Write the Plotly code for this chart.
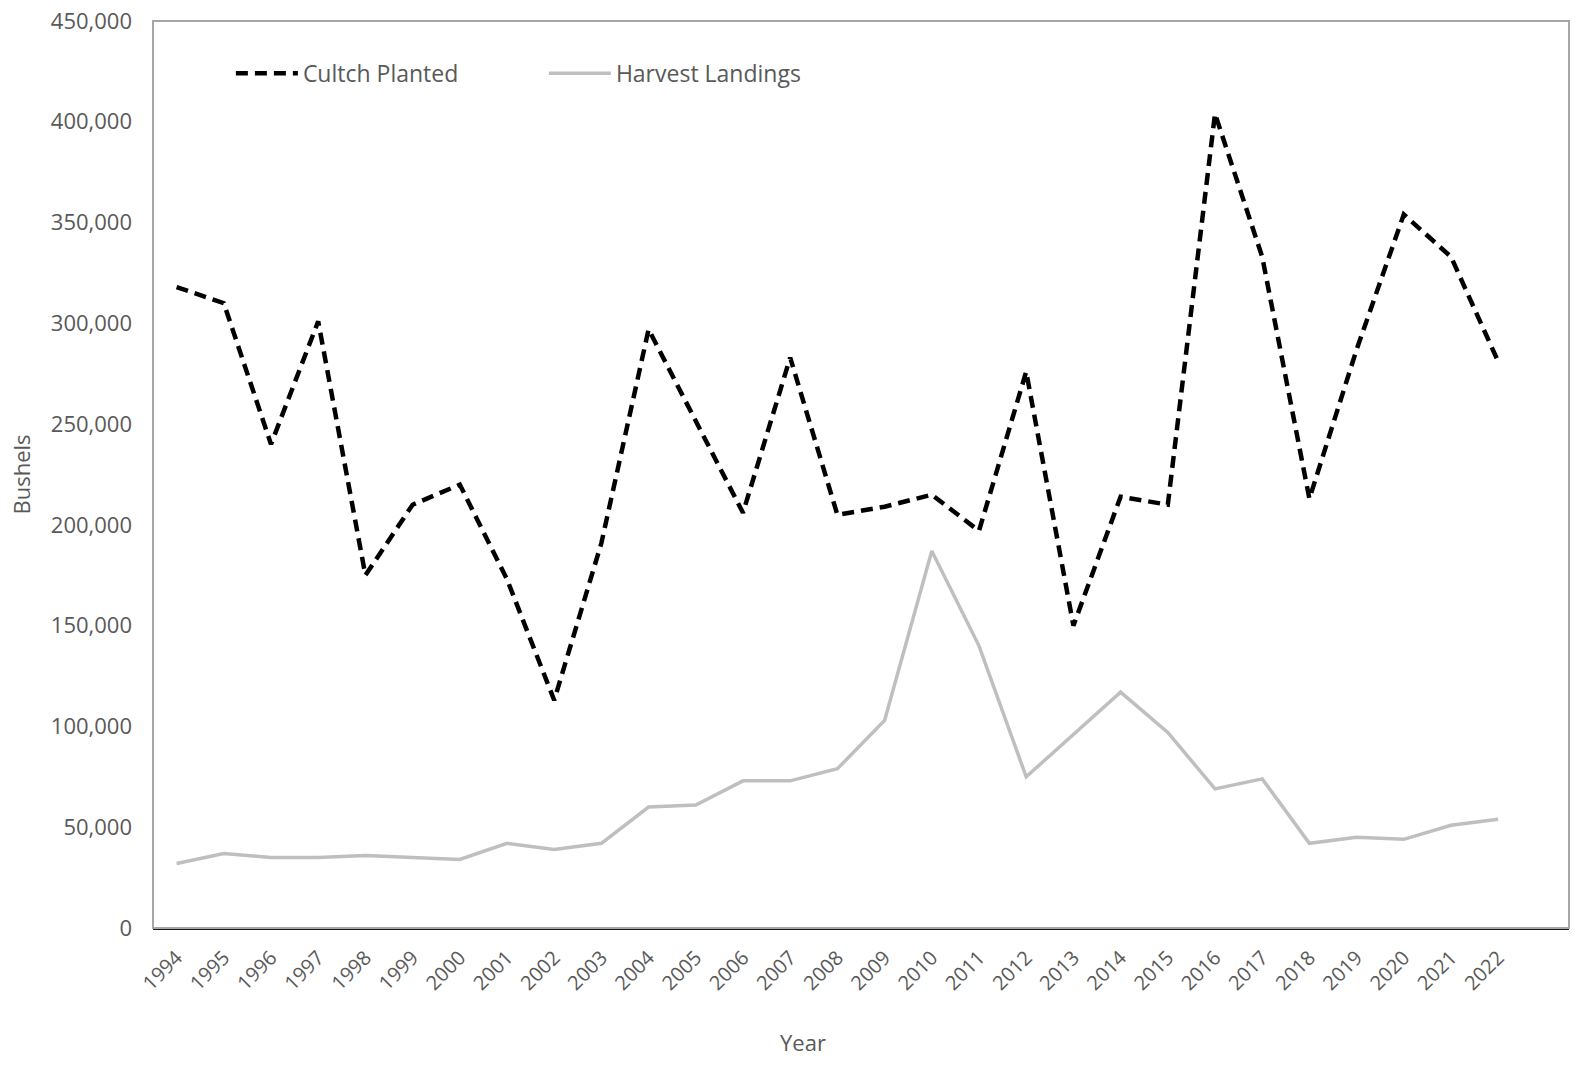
import plotly.graph_objects as go

years = list(range(1994, 2023))
year_labels = [str(y) for y in years]

cultch_planted = [
    318000, 310000, 240000, 301000, 175000, 210000, 220000, 173000, 113000, 191000,
    297000, 251000, 206000, 283000, 205000, 209000, 215000, 197000, 276000, 150000,
    214000, 210000, 404000, 333000, 213000, 287000, 354000, 333000, 281000,
]
harvest_landings = [
    32000, 37000, 35000, 35000, 36000, 35000, 34000, 42000, 39000, 42000,
    60000, 61000, 73000, 73000, 79000, 103000, 187000, 140000, 75000, 96000,
    117000, 97000, 69000, 74000, 42000, 45000, 44000, 51000, 54000,
]
y_ticks = list(range(0, 450001, 50000))
y_tick_labels = [f"{v:,}" for v in y_ticks]

font_family = "Open Sans, Lato, sans-serif"
text_gray = "#595959"

fig = go.Figure()
fig.add_trace(go.Scatter(
    x=years, y=cultch_planted, name="Cultch Planted", mode="lines",
    line=dict(color="#000000", width=4.5, dash="12px,7px"),
))
fig.add_trace(go.Scatter(
    x=years, y=harvest_landings, name="Harvest Landings", mode="lines",
    line=dict(color="#BFBFBF", width=3.5),
))

fig.update_layout(
    width=1575, height=1067,
    margin=dict(l=153, r=6, t=21, b=139),
    paper_bgcolor="white", plot_bgcolor="white",
    font=dict(family=font_family, color=text_gray, size=19),
    showlegend=True,
    legend=dict(
        orientation="h", x=0.055, y=0.966, xanchor="left", yanchor="top",
        font=dict(size=23, color=text_gray), bgcolor="rgba(0,0,0,0)",
        entrywidth=236, entrywidthmode="pixels", itemwidth=62,
    ),
    shapes=[dict(
        type="rect", xref="paper", yref="paper", x0=0, x1=1, y0=0, y1=1,
        line=dict(color="#A6A6A6", width=2), layer="above",
    )],
    annotations=[dict(
        text="Year", xref="paper", yref="paper", x=0.459, y=-0.126,
        xanchor="center", yanchor="middle", showarrow=False,
        font=dict(size=22, color=text_gray),
    )],
)

fig.update_xaxes(
    range=[1993.5, 2023.5], tickmode="array", tickvals=years, ticktext=year_labels,
    tickangle=-45, showgrid=False, zeroline=False,
    showline=True, linecolor="#1a1a1a", linewidth=2,
    ticks="", ticklabelstandoff=8, tickfont=dict(size=20, color=text_gray),
)
fig.update_yaxes(
    range=[0, 450000], tickmode="array", tickvals=y_ticks, ticktext=y_tick_labels,
    showgrid=False, zeroline=False, showline=False,
    ticks="", ticklabelstandoff=20, tickfont=dict(size=22, color=text_gray),
    title=dict(text="Bushels", font=dict(size=22, color=text_gray), standoff=14),
)

fig.write_html("out.html")
